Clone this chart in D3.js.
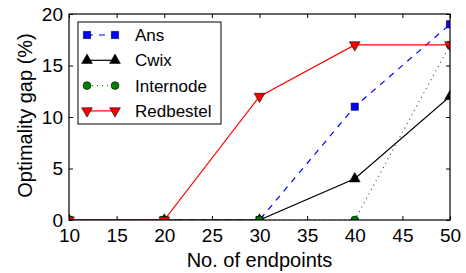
<!DOCTYPE html>
<html>
<head>
<meta charset="utf-8">
<script src="https://cdn.jsdelivr.net/npm/d3@7"></script>
<style>
  body { margin: 0; background: #fff; }
  svg { font-family: "Liberation Sans", Arial, sans-serif; }
</style>
</head>
<body>
<svg id="graph"></svg>
<script>
var endpoints = [10, 20, 30, 40, 50];
var ans = [0, 0, 0, 11, 19];
var cwix = [0, 0, 0, 4, 12];
var internode = [0, 0, 0, 0, 17];
var redbestel = [0, 0, 12, 17, 17];
var xTicks = [10, 15, 20, 25, 30, 35, 40, 45, 50];
var yTicks = [0, 5, 10, 15, 20];

var series = [
  {name: "Ans", values: ans, color: "#0000ff", dash: "6,6", marker: "square"},
  {name: "Cwix", values: cwix, color: "#000000", dash: null, marker: "up"},
  {name: "Internode", values: internode, color: "#008000", dash: "1,4", marker: "circle"},
  {name: "Redbestel", values: redbestel, color: "#ff0000", dash: null, marker: "down"}
];

var svg = d3.select("#graph")
  .attr('width', 466)
  .attr('height', 273)

var margin = {top: 14, right: 16, bottom: 53, left: 69},
    width = 466 - margin.left - margin.right,
    height = 273 - margin.top - margin.bottom;

var x = d3.scaleLinear().domain([10, 50]).range([0, width]),
    y = d3.scaleLinear().domain([0, 20]).range([height, 0]);

var g = svg.append("g")
  .attr("transform", "translate(" + margin.left + "," + margin.top + ")")

svg.append("defs").append("clipPath").attr("id", "clip")
  .append("rect").attr("width", width).attr("height", height)

// inward ticks on all four sides
function styleAxis(sel) {
  sel.select(".domain").remove()
  sel.selectAll("line").attr("stroke", "#000")
  sel.selectAll("text").attr("font-size", 19).attr("fill", "#000")
}

g.append("g")
  .attr("transform", "translate(0," + height + ")")
  .call(d3.axisBottom(x).tickValues(xTicks).tickSize(-4).tickPadding(9).tickFormat(d3.format("d")))
  .call(styleAxis)
g.append("g")
  .call(d3.axisTop(x).tickValues(xTicks).tickSize(-4).tickFormat(""))
  .call(styleAxis)
g.append("g")
  .call(d3.axisLeft(y).tickValues(yTicks).tickSize(-4).tickPadding(6).tickFormat(d3.format("d")))
  .call(styleAxis)
g.append("g")
  .attr("transform", "translate(" + width + ",0)")
  .call(d3.axisRight(y).tickValues(yTicks).tickSize(-4).tickFormat(""))
  .call(styleAxis)

var symbols = {
  square: d3.symbol().type(d3.symbolSquare).size(52),
  up: d3.symbol().type(d3.symbolTriangle).size(50),
  down: d3.symbol().type(d3.symbolTriangle).size(50),
  circle: d3.symbol().type(d3.symbolCircle).size(48)
}

function drawMarker(sel, s) {
  sel.append("path")
    .attr("d", symbols[s.marker]())
    .attr("transform", s.marker == "down" ? "rotate(180)" : null)
    .attr("fill", s.color)
    .attr("stroke", "#000")
    .attr("stroke-width", 0.6)
}

var plot = g.append("g").attr("clip-path", "url(#clip)")
var line = d3.line()
  .x(function(d, i) { return x(endpoints[i]) })
  .y(function(d) { return y(d) })

series.forEach(function(s) {
  plot.append("path")
    .datum(s.values)
    .attr("d", line)
    .attr("fill", "none")
    .attr("stroke", s.color)
    .attr("stroke-width", 1.2)
    .attr("stroke-dasharray", s.dash)
  plot.selectAll(null)
    .data(s.values)
    .enter().append("g")
    .attr("transform", function(d, i) { return "translate(" + x(endpoints[i]) + "," + y(d) + ")" })
    .each(function() { drawMarker(d3.select(this), s) })
})

// frame
g.append("rect")
  .attr("width", width).attr("height", height)
  .attr("fill", "none").attr("stroke", "#000").attr("stroke-width", 1.2)

// legend
var legend = g.append("g").attr("transform", "translate(9,8)")
legend.append("rect")
  .attr("width", 143).attr("height", 102)
  .attr("fill", "#fff").attr("stroke", "#000").attr("stroke-width", 1)
series.forEach(function(s, i) {
  var row = legend.append("g").attr("transform", "translate(0," + (13 + i * 25.3) + ")")
  row.append("line")
    .attr("x1", 9).attr("x2", 37)
    .attr("stroke", s.color).attr("stroke-width", 1.2)
    .attr("stroke-dasharray", s.dash)
  row.append("g").attr("transform", "translate(9,0)").each(function() { drawMarker(d3.select(this), s) })
  row.append("g").attr("transform", "translate(37,0)").each(function() { drawMarker(d3.select(this), s) })
  row.append("text")
    .attr("x", 57).attr("dy", "0.35em")
    .attr("font-size", 17)
    .text(s.name)
})

svg.append("text")
  .attr("x", margin.left + width / 2).attr("y", 267)
  .attr("text-anchor", "middle").attr("font-size", 20)
  .text("No. of endpoints")
svg.append("text")
  .attr("transform", "translate(32,115.5) rotate(-90)")
  .attr("text-anchor", "middle").attr("font-size", 20)
  .text("Optimality gap (%)")
</script>
</body>
</html>
